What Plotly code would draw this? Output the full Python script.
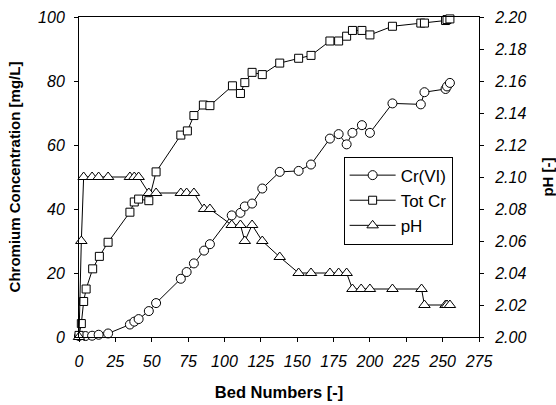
import plotly.graph_objects as go

# ---- data ----
cr6_x = [0, 4.4, 9, 13.5, 20, 35, 38, 41, 48, 53, 70, 74, 79, 86, 90, 105, 111, 114, 119, 126,
         138, 151, 159.5, 172.5, 178.5, 184, 188, 194.5, 200, 215.5, 235, 237.5, 252, 253, 255]
cr6_y = [0.3, 0.3, 0.4, 0.7, 1.1, 3.9, 4.8, 5.6, 8.1, 10.6, 18.2, 20.3, 23, 27, 29, 38, 38.8, 40.8, 41.7, 46.4,
         51.6, 51.9, 53.9, 62, 63.4, 60.2, 63.8, 66.2, 63.8, 73, 72.7, 76.5, 77.5, 78.3, 79.4]

tot_x = [0, 1.6, 3.2, 4.9, 9.4, 14, 20, 35, 38, 41, 48, 53, 70, 74.5, 79, 85.5, 90, 105.5, 111, 114,
         119, 126, 138, 151, 159.5, 172.5, 178.5, 184, 188, 194.5, 200, 215.5, 235, 237.5, 252, 253, 255]
tot_y = [0.5, 4.2, 11.1, 15, 21.3, 25.2, 29.6, 39, 42.2, 43.1, 42.6, 51.6, 63.1, 64.4, 69.2, 72.5, 72.3, 78.5, 76.1, 79.5,
         82.7, 82, 85.6, 87.1, 88, 92.5, 92.5, 94, 95.8, 95.8, 94.4, 97.1, 98.1, 98.1, 98.9, 99.2, 99.4]

ph_x = [0, 1.6, 3.2, 9, 13.5, 20, 35, 38, 41, 48, 53, 70, 74, 79, 86, 90, 105, 111, 114, 119,
        126, 138, 151, 159.5, 172.5, 178.5, 184, 188, 194, 200, 215.5, 235.5, 237.5, 252, 253, 255]
ph_y = [2.00, 2.06, 2.10, 2.10, 2.10, 2.10, 2.10, 2.10, 2.10, 2.09, 2.09, 2.09, 2.09, 2.09, 2.08, 2.08, 2.07, 2.07, 2.06, 2.07,
        2.06, 2.05, 2.04, 2.04, 2.04, 2.04, 2.04, 2.03, 2.03, 2.03, 2.03, 2.03, 2.02, 2.02, 2.02, 2.02]

x_ticks = [0, 25, 50, 75, 100, 125, 150, 175, 200, 225, 250, 275]
y_ticks = [0, 20, 40, 60, 80, 100]
y2_ticks = [2.00, 2.02, 2.04, 2.06, 2.08, 2.10, 2.12, 2.14, 2.16, 2.18, 2.20]

FONT = "Liberation Sans, Arial, sans-serif"
tick_font = dict(family=FONT, size=16, color="black")
title_font_x = dict(family=FONT, size=16.5, color="black", weight="bold")
title_font_y = dict(family=FONT, size=15, color="black", weight="bold")

def ital(vals, fmt):
    return ["<i>" + fmt.format(v) + "</i>" for v in vals]

def mk(symbol, size):
    return dict(symbol=symbol, size=size, color="white", line=dict(color="black", width=1))

fig = go.Figure()
fig.add_trace(go.Scatter(x=cr6_x, y=cr6_y, name="Cr(VI)", mode="lines+markers",
                         line=dict(color="black", width=1), marker=mk("circle", 9), cliponaxis=False))
fig.add_trace(go.Scatter(x=tot_x, y=tot_y, name="Tot Cr", mode="lines+markers",
                         line=dict(color="black", width=1), marker=mk("square", 8), cliponaxis=False))
fig.add_trace(go.Scatter(x=ph_x, y=ph_y, name="pH", mode="lines+markers", yaxis="y2",
                         line=dict(color="black", width=1), marker=mk("triangle-up", 10), cliponaxis=False))

fig.update_layout(
    width=556, height=405,
    margin=dict(l=79, r=77, t=17, b=68, pad=0, autoexpand=False),
    paper_bgcolor="white", plot_bgcolor="white",
    showlegend=True,
    legend=dict(x=0.6616, y=0.5638, xanchor="left", yanchor="top", itemwidth=46,
                bordercolor="black", borderwidth=1, bgcolor="white",
                font=dict(family=FONT, size=17, color="black"), tracegroupgap=0),
    xaxis=dict(range=[0, 275], tickvals=x_ticks, ticktext=ital(x_ticks, "{:g}"), automargin=False,
               ticks="outside", ticklen=4, tickcolor="black",
               showline=True, linecolor="black", linewidth=1, mirror=True, showgrid=False, zeroline=False,
               tickfont=tick_font, ticklabelstandoff=6,
               title=dict(text="Bed Numbers [-]", font=title_font_x, standoff=17)),
    yaxis=dict(range=[0, 100], tickvals=y_ticks, ticktext=ital(y_ticks, "{:g}"), automargin=False,
               ticks="outside", ticklen=4, tickcolor="black",
               showline=True, linecolor="black", linewidth=1, showgrid=False, zeroline=False,
               tickfont=tick_font, ticklabelstandoff=6,
               title=dict(text="Chromium Concentration [mg/L]", font=title_font_y, standoff=13)),
    yaxis2=dict(range=[2.00, 2.20], tickvals=y2_ticks, ticktext=ital(y2_ticks, "{:.2f}"), automargin=False,
                overlaying="y", side="right",
                ticks="outside", ticklen=4, tickcolor="black",
                showline=True, linecolor="black", linewidth=1, showgrid=False, zeroline=False,
                tickfont=tick_font, ticklabelstandoff=8,
                title=dict(text="pH [-]", font=title_font_y, standoff=24)),
)

fig.write_html("out.html")
